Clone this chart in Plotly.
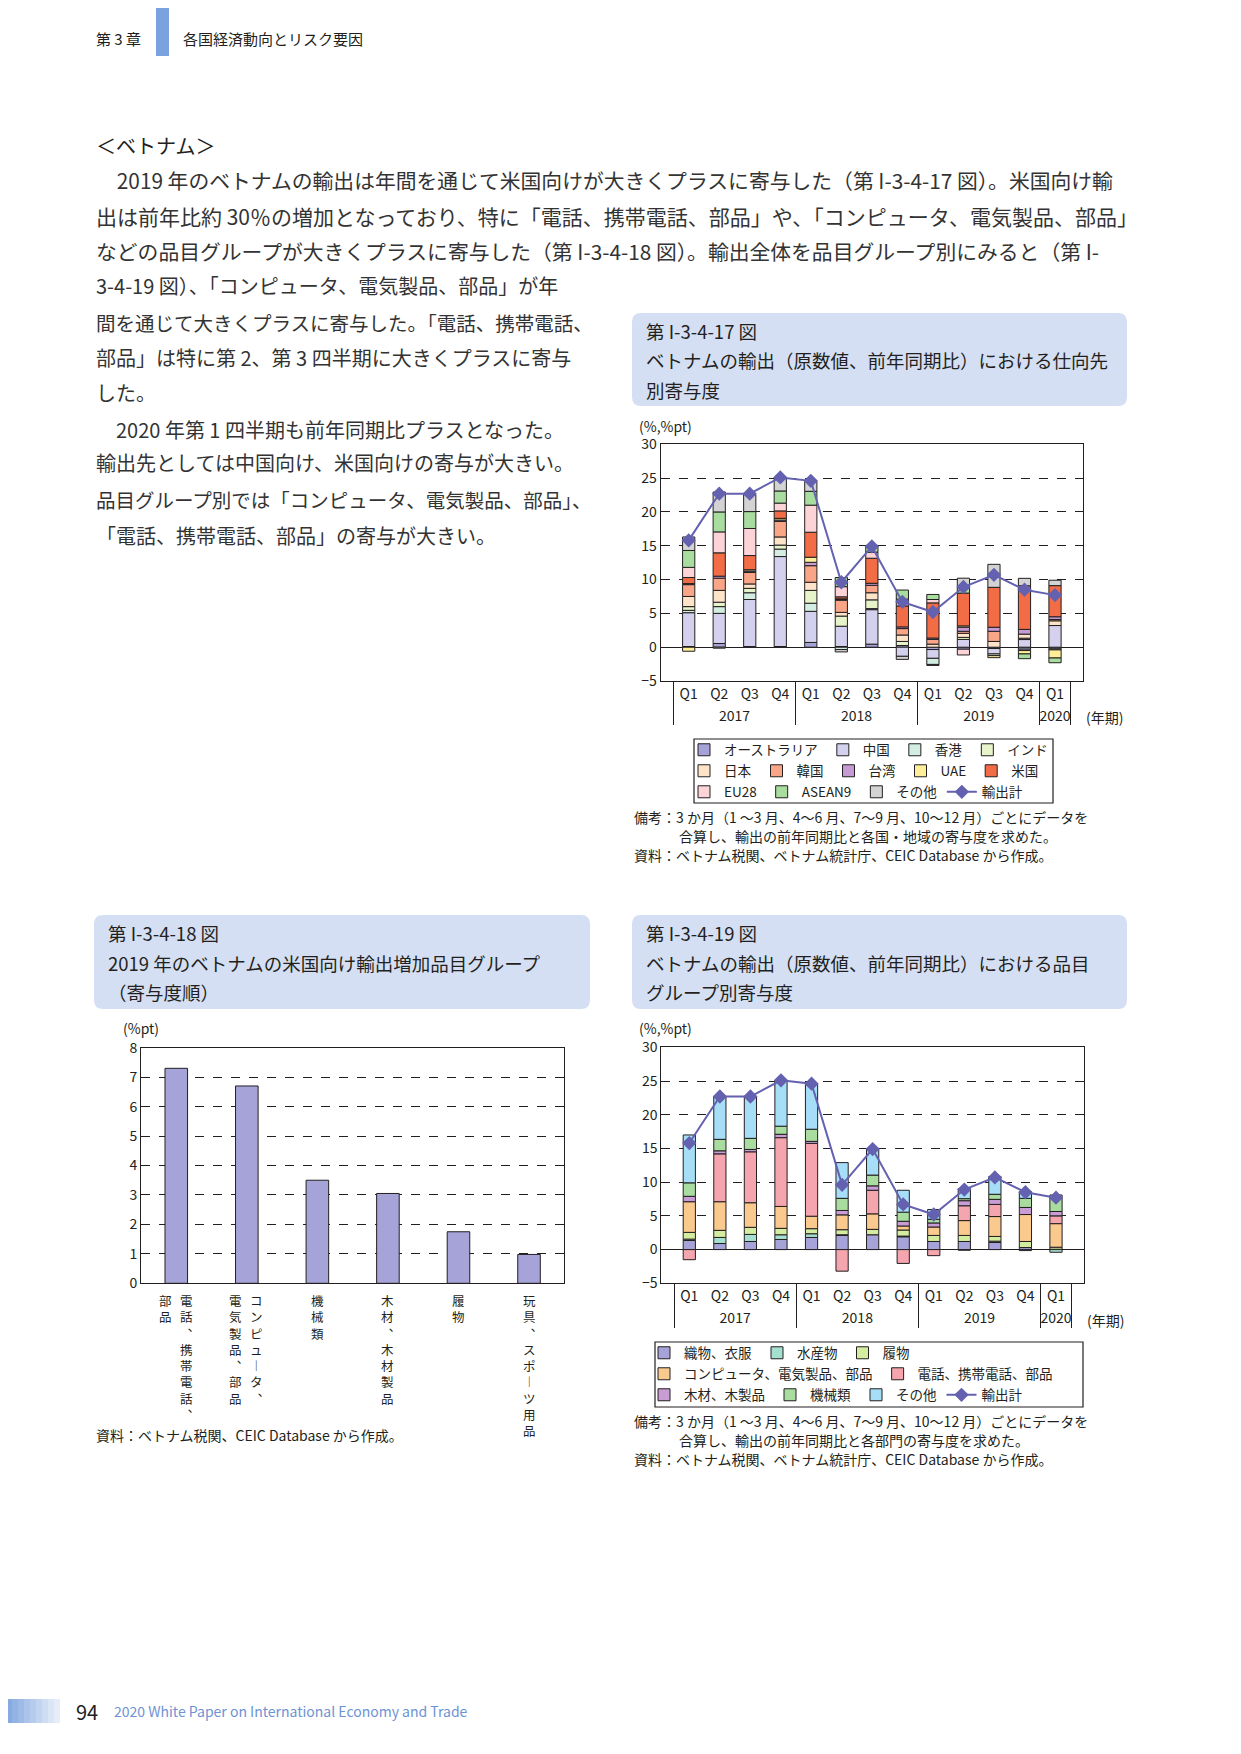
import plotly.graph_objects as go

W, H = 1241, 1754
OFF = 8  # the page body keeps its default 8px margin
FONT = "Noto Sans CJK JP"
INK = "#231f20"
LINE_COLOR = "#6461b0"

# ---- shared quarter axis ----
years = ["2017"] * 4 + ["2018"] * 4 + ["2019"] * 4 + ["2020"]
quarters = ["Q1", "Q2", "Q3", "Q4"] * 3 + ["Q1"]
total_exports = [15.8, 22.7, 22.7, 25.1, 24.6, 9.6, 14.9, 6.7, 5.2, 8.9, 10.7, 8.5, 7.7]

# ---- fig I-3-4-17: contribution by destination ----
australia = [0.1, 0.55, 0.1, 0.1, 0.7, 0.1, 0.45, 0.25, -0.35, -0.3, -0.2, -0.3, -0.25]
china = [5.0, 4.45, 6.95, 13.3, 4.6, 3.0, 5.1, -1.35, -1.3, 1.15, -0.8, 1.13, 3.2]
hong_kong = [0.35, 1.0, 1.0, 1.1, 1.2, -0.35, 0.15, None, -0.9, None, None, -0.2, None]
india = [0.55, 0.65, 0.65, 0.6, 1.9, 1.5, 1.3, 0.6, None, 0.3, -0.25, 0.2, -0.15]
japan = [1.5, 1.75, 0.65, 1.2, 1.2, 0.55, 1.05, 0.95, 0.45, 0.6, 0.85, 0.6, 0.7]
korea = [1.75, 1.8, 1.7, 2.3, 2.45, 1.8, 1.1, 0.95, 0.7, 0.3, 1.5, None, 0.2]
taiwan = [0.15, 0.3, 0.2, 0.2, 0.5, 0.1, 0.3, 0.25, 0.2, 0.6, 0.6, 0.7, 0.4]
uae = [-0.6, -0.15, 0.2, 0.25, 0.75, 0.1, None, None, -0.15, 0.2, -0.3, -0.5, -1.2]
usa = [0.9, 3.45, 2.1, 1.1, 3.7, 0.3, 3.7, 3.1, 5.2, 4.85, 5.9, 6.45, 4.6]
eu28 = [1.5, 3.1, 4.0, 1.15, 4.0, 1.5, 0.9, 1.0, 0.5, -0.85, None, None, None]
asean9 = [2.5, 2.95, 2.5, 1.8, 2.05, 1.35, 1.0, 1.35, 0.75, 0.7, None, -0.7, -0.7]
others_dest = [2.0, 2.95, 2.5, 1.9, 1.5, -0.35, None, -0.45, None, 1.5, 3.4, 1.1, 0.8]

dest_series = [
    ("オーストラリア", australia, "#a4a2d6", "legend"),
    ("中国", china, "#d3d1ed", "legend"),
    ("香港", hong_kong, "#d2eee3", "legend"),
    ("インド", india, "#e7f3c9", "legend"),
    ("日本", japan, "#fde4c9", "legend2"),
    ("韓国", korea, "#f8a687", "legend2"),
    ("台湾", taiwan, "#c69bd4", "legend2"),
    ("UAE", uae, "#fdef99", "legend2"),
    ("米国", usa, "#f26d46", "legend2"),
    ("EU28", eu28, "#fcd4d7", "legend3"),
    ("ASEAN9", asean9, "#a8dd9f", "legend3"),
    ("その他", others_dest, "#d3d3d3", "legend3"),
]

# ---- fig I-3-4-18: US-bound export increase by item group, 2019 ----
items_18 = ["電話、携帯電話、部品", "コンピュータ、電気製品、部品", "機械類",
            "木材、木材製品", "履物", "玩具、スポーツ用品"]
values_18 = [7.3, 6.7, 3.5, 3.05, 1.75, 0.98]
label_columns_18 = [["電話、携帯電話、", "部品"], ["コンピュータ、", "電気製品、部品"], ["機械類"],
                    ["木材、木材製品"], ["履物"], ["玩具、スポーツ用品"]]

# ---- fig I-3-4-19: contribution by item group ----
textiles = [1.35, 0.9, 1.2, 1.5, 1.8, 2.1, 2.2, 1.9, 1.2, 1.2, 1.05, 0.3, 0.05]
seafood = [0.2, 0.9, 1.05, 0.7, 0.55, 0.1, None, 0.1, None, -0.1, 0.2, -0.15, -0.4]
footwear = [1.0, 1.05, 1.05, 0.95, 0.75, 0.75, 0.8, 0.9, 0.9, 0.9, 0.7, 0.9, 0.3]
computers = [4.55, 4.25, 3.65, 3.25, 1.85, 2.2, 2.3, 0.6, 1.25, 2.2, 2.95, 4.0, 3.5]
phones = [-1.5, 7.1, 7.55, 10.2, 10.8, -3.2, 3.5, -2.05, -0.9, 2.2, 1.8, None, 1.15]
wood = [0.8, 0.45, 0.35, 0.5, 0.3, 0.65, 0.65, 0.7, 0.6, 0.75, 0.75, 1.05, 0.65]
machinery = [2.0, 1.7, 1.65, 1.2, 1.8, 1.8, 1.6, 1.35, 0.55, 0.3, 0.75, 1.35, 1.95]
others_item = [7.1, 6.3, 6.2, 6.8, 6.7, 5.3, 3.95, 3.25, 1.45, 1.5, 2.65, 1.0, 0.5]

item_series = [
    ("織物、衣服", textiles, "#a5a3d8", "legend4"),
    ("水産物", seafood, "#a5dfcf", "legend4"),
    ("履物", footwear, "#d3eca0", "legend4"),
    ("コンピュータ、電気製品、部品", computers, "#f9c98e", "legend5"),
    ("電話、携帯電話、部品", phones, "#f4a5ad", "legend5"),
    ("木材、木製品", wood, "#c89dd5", "legend6"),
    ("機械類", machinery, "#a9dda0", "legend6"),
    ("その他", others_item, "#a6def7", "legend6"),
]


def px(x):
    return (x - OFF) / W


def py(y):
    return 1 - (y - OFF) / H


fig = go.Figure()

for name, vals, color, leg in dest_series:
    fig.add_trace(go.Bar(x=[years, quarters], y=vals, name=name, width=0.4,
                         marker=dict(color=color, line=dict(color=INK, width=1)),
                         xaxis="x", yaxis="y", legend=leg))
fig.add_trace(go.Scatter(x=[years, quarters], y=total_exports, name="輸出計",
                         mode="lines+markers", line=dict(color=LINE_COLOR, width=2),
                         marker=dict(symbol="diamond", size=11, color=LINE_COLOR),
                         xaxis="x", yaxis="y", legend="legend3"))

fig.add_trace(go.Bar(x=items_18, y=values_18, width=0.32, showlegend=False,
                     marker=dict(color="#a5a3d8", line=dict(color=INK, width=1)),
                     xaxis="x2", yaxis="y2"))

for name, vals, color, leg in item_series:
    fig.add_trace(go.Bar(x=[years, quarters], y=vals, name=name, width=0.4,
                         marker=dict(color=color, line=dict(color=INK, width=1)),
                         xaxis="x3", yaxis="y3", legend=leg))
fig.add_trace(go.Scatter(x=[years, quarters], y=total_exports, name="輸出計",
                         mode="lines+markers", line=dict(color=LINE_COLOR, width=2),
                         marker=dict(symbol="diamond", size=11, color=LINE_COLOR),
                         xaxis="x3", yaxis="y3", legend="legend6"))


def yaxis(domain, rng, dtick, anchor):
    return dict(domain=domain, range=rng, dtick=dtick, anchor=anchor,
                showline=True, linecolor=INK, linewidth=1, mirror=True,
                showgrid=True, gridcolor=INK, griddash="dash", gridwidth=1,
                zeroline=True, zerolinecolor=INK, zerolinewidth=1, ticks="",
                tickfont=dict(family=FONT, size=14, color=INK), fixedrange=True)


def qaxis(domain, anchor):
    return dict(domain=domain, anchor=anchor, type="multicategory",
                showline=True, linecolor=INK, linewidth=1, mirror=True,
                showgrid=False, showdividers=True, dividercolor=INK, dividerwidth=1,
                ticks="", tickfont=dict(family=FONT, size=14, color=INK), fixedrange=True)


def legend(x, y):
    return dict(x=px(x), y=py(y), xanchor="left", yanchor="middle", orientation="h",
                font=dict(family=FONT, size=13.5, color=INK), bgcolor="rgba(0,0,0,0)",
                borderwidth=0, itemwidth=30, traceorder="normal", tracegroupgap=0)


annotations = []


def text(x, y, s, size=14, anchor="left", color=INK):
    annotations.append(dict(x=px(x), y=py(y), xref="paper", yref="paper", text=s,
                            showarrow=False, xanchor=anchor, yanchor="middle",
                            font=dict(family=FONT, size=size, color=color)))


# page header / body
text(94, 39, "第 3 章", 15)
text(181, 39, "各国経済動向とリスク要因", 15)
text(94, 145, "＜ベトナム＞", 20)
body = [
    (180, "　2019 年のベトナムの輸出は年間を通じて米国向けが大きくプラスに寄与した（第 I-3-4-17 図）。米国向け輸", 20.8),
    (216, "出は前年比約 30％の増加となっており、特に「電話、携帯電話、部品」や、「コンピュータ、電気製品、部品」", 21),
    (251, "などの品目グループが大きくプラスに寄与した（第 I-3-4-18 図）。輸出全体を品目グループ別にみると（第 I-", 20.8),
    (286, "3-4-19 図）、「コンピュータ、電気製品、部品」が年", 20),
    (322, "間を通じて大きくプラスに寄与した。「電話、携帯電話、", 19.5),
    (357, "部品」は特に第 2、第 3 四半期に大きくプラスに寄与", 20),
    (392, "した。", 20),
    (429, "　2020 年第 1 四半期も前年同期比プラスとなった。", 20),
    (463, "輸出先としては中国向け、米国向けの寄与が大きい。", 20),
    (499, "品目グループ別では「コンピュータ、電気製品、部品」、", 19.5),
    (535, "「電話、携帯電話、部品」の寄与が大きい。", 20),
]
for y, s, size in body:
    text(94, y, s, size, color="#333333")

# figure title boxes
title_boxes = [
    (632, 313, 1127, 406, ["第 I-3-4-17 図", "ベトナムの輸出（原数値、前年同期比）における仕向先", "別寄与度"]),
    (94, 915, 590, 1009, ["第 I-3-4-18 図", "2019 年のベトナムの米国向け輸出増加品目グループ", "（寄与度順）"]),
    (632, 915, 1127, 1009, ["第 I-3-4-19 図", "ベトナムの輸出（原数値、前年同期比）における品目", "グループ別寄与度"]),
]
shapes = []
for x0, y0, x1, y1, lines in title_boxes:
    r = 9
    path = (f"M{px(x0 + r)},{py(y0)} L{px(x1 - r)},{py(y0)} Q{px(x1)},{py(y0)} {px(x1)},{py(y0 + r)} "
            f"L{px(x1)},{py(y1 - r)} Q{px(x1)},{py(y1)} {px(x1 - r)},{py(y1)} "
            f"L{px(x0 + r)},{py(y1)} Q{px(x0)},{py(y1)} {px(x0)},{py(y1 - r)} "
            f"L{px(x0)},{py(y0 + r)} Q{px(x0)},{py(y0)} {px(x0 + r)},{py(y0)} Z")
    shapes.append(dict(type="path", path=path, xref="paper", yref="paper",
                       fillcolor="#d5dff3", line=dict(width=0), layer="below"))
    for i, s in enumerate(lines):
        text(x0 + 12, y0 + 18 + i * 29.5, s, 18.5)

# axis captions
text(637, 426, "(%,%pt)", 14)
text(1084, 717, "(年期)", 14)
text(121, 1028, "(%pt)", 14)
text(637, 1028, "(%,%pt)", 14)
text(1085, 1320, "(年期)", 14)

# vertical category labels for fig 18 (one column of stacked characters each)
vertical_map = {"、": "︑", "ー": "︱"}
for item, cols in zip(items_18, label_columns_18):
    offsets = [10, -11] if len(cols) == 2 else [0]
    for col, dx in zip(cols, offsets):
        stacked = "<br>".join(vertical_map.get(ch, ch) for ch in col)
        annotations.append(dict(x=item, xref="x2", y=py(1290), yref="paper",
                                xshift=dx, text=stacked, showarrow=False,
                                xanchor="center", yanchor="top", borderpad=0,
                                font=dict(family=FONT, size=12.5, color=INK)))

# notes
text(632, 817, "備考：3 か月（1 ～3 月、4～6 月、7～9 月、10～12 月）ごとにデータを", 14)
text(677, 836, "合算し、輸出の前年同期比と各国・地域の寄与度を求めた。", 14)
text(632, 855, "資料：ベトナム税関、ベトナム統計庁、CEIC Database から作成。", 14)
text(94, 1435, "資料：ベトナム税関、CEIC Database から作成。", 14)
text(632, 1421, "備考：3 か月（1 ～3 月、4～6 月、7～9 月、10～12 月）ごとにデータを", 14)
text(677, 1440, "合算し、輸出の前年同期比と各部門の寄与度を求めた。", 14)
text(632, 1459, "資料：ベトナム税関、ベトナム統計庁、CEIC Database から作成。", 14)

# footer
text(74, 1711, "94", 20)
text(112, 1711, "2020 White Paper on International Economy and Trade", 14, color="#6d93d3")

# header bar and footer fade
shapes.append(dict(type="rect", xref="paper", yref="paper", x0=px(156), x1=px(169),
                   y0=py(56), y1=py(0), fillcolor="#7aa2de", line=dict(width=0)))
for i in range(10):
    shapes.append(dict(type="rect", xref="paper", yref="paper", x0=px(i * 6), x1=px(i * 6 + 6),
                       y0=py(1723), y1=py(1699), fillcolor="#7aa2de",
                       opacity=1 - i * 0.09, line=dict(width=0)))

# legend frames
for x0, y0, x1, y1 in [(694, 739, 1053, 803), (655, 1342, 1083, 1407)]:
    shapes.append(dict(type="rect", xref="paper", yref="paper", x0=px(x0), x1=px(x1),
                       y0=py(y1), y1=py(y0), line=dict(color=INK, width=1.2)))

fig.update_layout(
    width=W, height=H, margin=dict(l=0, r=0, t=0, b=0, autoexpand=False),
    paper_bgcolor="white", plot_bgcolor="white",
    font=dict(family=FONT, size=14, color=INK),
    barmode="relative", showlegend=True,
    xaxis=qaxis([px(660.7), px(1083)], "y"),
    yaxis=yaxis([py(681), py(444.3)], [-5, 30], 5, "x"),
    xaxis2=dict(domain=[px(141), px(564.3)], anchor="y2", showline=True, linecolor=INK,
                linewidth=1, mirror=True, showticklabels=False, ticks="", fixedrange=True),
    yaxis2=yaxis([py(1283.3), py(1047.7)], [0, 8], 1, "x2"),
    xaxis3=qaxis([px(661.3), px(1084)], "y3"),
    yaxis3=yaxis([py(1283.3), py(1047.3)], [-5, 30], 5, "x3"),
    legend=legend(684, 750),
    legend2=legend(684, 771),
    legend3=legend(684, 792),
    legend4=legend(644, 1353),
    legend5=legend(644, 1374),
    legend6=legend(644, 1395),
    annotations=annotations,
    shapes=shapes,
)

fig.write_html("out.html")
